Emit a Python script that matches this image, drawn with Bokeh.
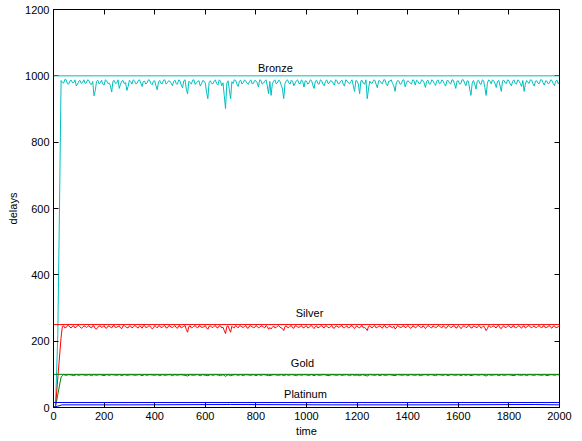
import numpy as np
from bokeh.plotting import figure
from bokeh.models import Range1d, FixedTicker, LinearAxis, Span
from bokeh.core.properties import value
from bokeh.embed import file_html
from bokeh.resources import INLINE

# ---------------- data ----------------
x_ticks = [0, 200, 400, 600, 800, 1000, 1200, 1400, 1600, 1800, 2000]
y_ticks = [0, 200, 400, 600, 800, 1000, 1200]

class_names = ["Bronze", "Silver", "Gold", "Platinum"]
thresholds = [1000, 250, 100, 15]

grid_t = list(range(30, 2001, 10))   # samples at 30, 40, ..., 2000
mid_t = list(range(35, 2000, 10))    # samples at 35, 45, ..., 1995

bronze_ramp_t = [0, 8, 17, 24]
bronze_ramp_v = [0, 5, 220, 620]
bronze_v = [
    986, 978, 988, 975, 987, 980, 970, 984, 977, 988,
    979, 986, 974, 940, 983, 976, 987, 972, 985, 978,
    951, 986, 979, 962, 984, 976, 956, 987, 975, 985,
    977, 988, 968, 984, 979, 987, 973, 985, 958, 986,
    976, 988, 979, 984, 970, 987, 975, 985, 964, 988,
    946, 980, 987, 974, 984, 969, 986, 978, 931, 985,
    976, 988, 972, 984, 979, 901, 985, 931, 977, 986,
    968, 987, 979, 984, 974, 988, 977, 985, 966, 986,
    978, 988, 946, 941, 984, 976, 987, 972, 931, 985,
    979, 987, 970, 985, 977, 988, 966, 984, 978, 986,
    962, 987, 975, 985, 970, 988, 978, 984, 972, 986,
    977, 987, 969, 985, 976, 988, 953, 984, 946, 986,
    975, 931, 984, 978, 987, 964, 985, 976, 988, 970,
    984, 977, 953, 986, 975, 987, 967, 985, 978, 988,
    972, 984, 977, 986, 965, 987, 976, 985, 971, 988,
    978, 984, 969, 986, 975, 987, 962, 985, 977, 988,
    970, 984, 941, 986, 960, 987, 974, 985, 941, 988,
    976, 984, 965, 986, 953, 987, 977, 985, 970, 988,
    975, 984, 968, 953, 986, 977, 987, 969, 985, 976,
    988, 972, 984, 978, 986, 970, 987, 982,
]
bronze_mid_v = [
    980, 989, 976, 985, 979, 988, 975, 986, 981, 977,
    988, 976, 983, 955, 987, 979, 975, 988, 977, 970,
    984, 977, 988, 975, 986, 980, 968, 983, 988, 976,
    986, 978, 983, 975, 988, 977, 984, 970, 981, 977,
    987, 975, 985, 978, 983, 976, 988, 972, 985, 960,
    984, 975, 988, 979, 985, 976, 984, 950, 980, 977,
    984, 976, 988, 970, 940, 978, 958, 982, 988, 975,
    984, 975, 988, 978, 983, 976, 986, 979, 988, 975,
    984, 970, 983, 976, 988, 979, 984, 960, 977, 988,
    975, 984, 978, 988, 976, 983, 985, 975, 988, 972,
    984, 977, 988, 975, 983, 977, 986, 978, 988, 976,
    984, 975, 988, 979, 983, 970, 986, 975, 985, 977,
    988, 960, 978, 987, 975, 985, 979, 988, 976, 984,
    988, 970, 979, 984, 976, 988, 978, 983, 975, 986,
    987, 976, 988, 979, 984, 975, 988, 977, 984, 976,
    988, 976, 985, 979, 988, 976, 984, 975, 988, 978,
    985, 960, 978, 975, 984, 977, 988, 965, 978, 984,
    988, 977, 984, 970, 985, 979, 988, 976, 984, 977,
    988, 977, 986, 975, 980, 988, 976, 984, 978, 988,
    979, 985, 976, 988, 977, 984, 976,
]

silver_ramp_t = [0, 8]
silver_ramp_v = [0, 3]
silver_v = [
    212, 246, 241, 247, 240, 246, 242, 247, 239, 246,
    241, 247, 240, 246, 236, 245, 241, 247, 239, 246,
    240, 247, 242, 246, 238, 247, 241, 246, 240, 247,
    241, 246, 239, 247, 242, 246, 237, 247, 240, 246,
    242, 247, 240, 246, 241, 247, 239, 246, 242, 247,
    227, 246, 241, 247, 240, 246, 242, 247, 236, 246,
    241, 247, 240, 246, 242, 223, 246, 227, 241, 247,
    240, 246, 242, 247, 239, 246, 241, 247, 240, 246,
    242, 247, 236, 237, 246, 241, 247, 240, 232, 246,
    241, 247, 239, 246, 242, 247, 240, 246, 241, 247,
    238, 246, 242, 247, 240, 246, 241, 247, 239, 246,
    242, 247, 240, 246, 241, 247, 238, 246, 240, 247,
    241, 232, 246, 240, 247, 242, 246, 239, 247, 241,
    246, 240, 237, 247, 242, 246, 241, 247, 239, 246,
    240, 247, 242, 246, 238, 247, 241, 246, 240, 247,
    242, 246, 239, 247, 241, 246, 240, 247, 238, 246,
    241, 247, 240, 246, 242, 247, 239, 246, 232, 247,
    241, 246, 240, 247, 238, 246, 242, 247, 240, 246,
    241, 247, 239, 246, 242, 247, 240, 246, 241, 247,
    240, 246, 242, 247, 239, 246, 241, 246,
]
silver_mid_v = [
    244, 240, 247, 242, 245, 240, 247, 243, 241, 245,
    244, 242, 246, 238, 242, 246, 243, 240, 245, 242,
    246, 241, 244, 240, 246, 243, 240, 245, 242, 246,
    240, 244, 246, 241, 245, 242, 240, 244, 246, 241,
    245, 240, 246, 242, 244, 241, 246, 240, 245, 235,
    244, 240, 245, 242, 246, 241, 244, 240, 245, 242,
    245, 241, 246, 240, 232, 244, 236, 245, 240, 244,
    246, 242, 244, 240, 246, 243, 241, 245, 242, 246,
    240, 244, 241, 242, 240, 245, 242, 238, 244, 241,
    245, 240, 246, 242, 244, 241, 245, 240, 246, 242,
    244, 240, 245, 242, 246, 241, 244, 240, 245, 242,
    246, 241, 244, 240, 246, 242, 244, 241, 245, 240,
    238, 244, 242, 245, 240, 244, 242, 246, 240, 244,
    242, 245, 240, 244, 241, 246, 242, 244, 240, 245,
    242, 246, 240, 244, 242, 245, 240, 244, 242, 246,
    240, 244, 241, 245, 242, 246, 240, 244, 241, 245,
    242, 246, 240, 244, 241, 245, 242, 240, 238, 244,
    245, 242, 246, 240, 244, 241, 245, 242, 246, 240,
    244, 242, 245, 240, 246, 242, 244, 241, 245, 242,
    246, 240, 244, 242, 245, 241, 244,
]

gold_ramp_t = [0, 8]
gold_ramp_v = [0, 2]
gold_v = [
    92, 99, 97, 99, 98, 96, 99, 97, 99, 98,
    97, 99, 96, 99, 97, 99, 98, 96, 99, 97,
    99, 98, 97, 99, 96, 99, 97, 98, 99, 97,
    98, 99, 96, 99, 97, 99, 98, 97, 99, 96,
    99, 97, 98, 99, 96, 99, 97, 99, 98, 97,
    95, 99, 97, 98, 99, 96, 99, 97, 96, 99,
    97, 99, 98, 96, 99, 94, 99, 96, 98, 99,
    97, 99, 96, 99, 98, 97, 99, 96, 99, 97,
    99, 98, 96, 97, 99, 98, 97, 99, 96, 99,
    97, 99, 98, 96, 99, 97, 99, 98, 97, 99,
    96, 99, 97, 98, 99, 97, 96, 99, 98, 97,
    99, 97, 98, 99, 96, 99, 97, 98, 96, 99,
    97, 95, 99, 98, 97, 99, 96, 99, 97, 98,
    99, 97, 96, 99, 98, 97, 99, 96, 99, 98,
    97, 99, 96, 98, 99, 97, 99, 98, 96, 99,
    98, 97, 99, 96, 99, 98, 97, 99, 96, 99,
    97, 99, 96, 98, 99, 97, 99, 98, 95, 99,
    97, 98, 99, 96, 99, 97, 98, 99, 97, 96,
    99, 98, 97, 99, 96, 99, 98, 97, 99, 98,
    97, 99, 96, 98, 99, 97, 99, 98,
]

platinum_t = [0, 8, 34, 300, 700, 1100, 1500, 1900, 2000]
platinum_v = [0, 2, 8, 8, 9, 8, 8, 9, 8]

colors = ["#00BFBF", "#FF0000", "#008000", "#0000FF"]


def merge(t_a, v_a, t_b, v_b):
    """Merge two sets of samples into one time-ordered series."""
    pairs = sorted(zip(list(t_a) + list(t_b), list(v_a) + list(v_b)))
    return [t for t, _ in pairs], [v for _, v in pairs]


bronze_t_all, bronze_v_all = merge(grid_t, bronze_v, mid_t, bronze_mid_v)
silver_t_all, silver_v_all = merge(grid_t, silver_v, mid_t, silver_mid_v)

# ---------------- figure ----------------
FONT = "Liberation Sans"

p = figure(
    width=582, height=441,
    frame_width=506, frame_height=398,
    min_border_left=53, min_border_right=23,
    min_border_top=9, min_border_bottom=34,
    x_range=Range1d(0, 2000), y_range=Range1d(0, 1200),
    output_backend="svg", toolbar_location=None,
    background_fill_color="white", border_fill_color="white",
)
p.xgrid.visible = False
p.ygrid.visible = False
p.outline_line_color = "black"
p.outline_line_width = 1

for ax, ticks in ((p.xaxis[0], x_ticks), (p.yaxis[0], y_ticks)):
    ax.ticker = FixedTicker(ticks=ticks)
    ax.major_tick_in = 5
    ax.major_tick_out = 0
    ax.minor_tick_line_color = None
    ax.major_label_text_font = FONT
    ax.major_label_text_font_size = "11px"
    ax.major_label_text_color = "black"
    ax.axis_label_text_font = FONT
    ax.axis_label_text_font_size = "11px"
    ax.axis_label_text_font_style = "normal"
    ax.axis_label_text_color = "black"
    ax.axis_line_color = "black"
    ax.major_tick_line_color = "black"

p.xaxis.axis_label = "time"
p.yaxis.axis_label = "delays"
p.xaxis.major_label_standoff = 4
p.xaxis.axis_label_standoff = 2
p.yaxis.major_label_standoff = 4
p.yaxis.axis_label_standoff = 3

# mirrored tick marks on top and right (no labels)
for loc, ticks in (("above", x_ticks), ("right", y_ticks)):
    a = LinearAxis(ticker=FixedTicker(ticks=ticks))
    a.major_tick_in = 5
    a.major_tick_out = 0
    a.minor_tick_line_color = None
    a.major_label_overrides = {t: "" for t in ticks}
    a.major_label_text_font_size = "1px"
    a.major_label_standoff = 0
    a.axis_line_color = "black"
    a.major_tick_line_color = "black"
    p.add_layout(a, loc)

# threshold lines
for thr, col in zip(thresholds, colors):
    p.add_layout(Span(location=thr, dimension="width", line_color=col, line_width=1))

# series
p.line(bronze_ramp_t + bronze_t_all, bronze_ramp_v + bronze_v_all, line_color=colors[0], line_width=1)
p.line(silver_ramp_t + silver_t_all, silver_ramp_v + silver_v_all, line_color=colors[1], line_width=1)
p.line(gold_ramp_t + grid_t, gold_ramp_v + gold_v, line_color=colors[2], line_width=1)
p.line(platinum_t, platinum_v, line_color=colors[3], line_width=1)

# class labels
label_t = [877, 1012, 984, 996]
label_v = [1025, 286, 133, 42]
p.text(x=label_t, y=label_v, text=class_names, text_font=value(FONT),
       text_font_size="11px", text_color="black",
       text_align="center", text_baseline="middle")

open("out.html", "w").write(file_html(p, INLINE))
